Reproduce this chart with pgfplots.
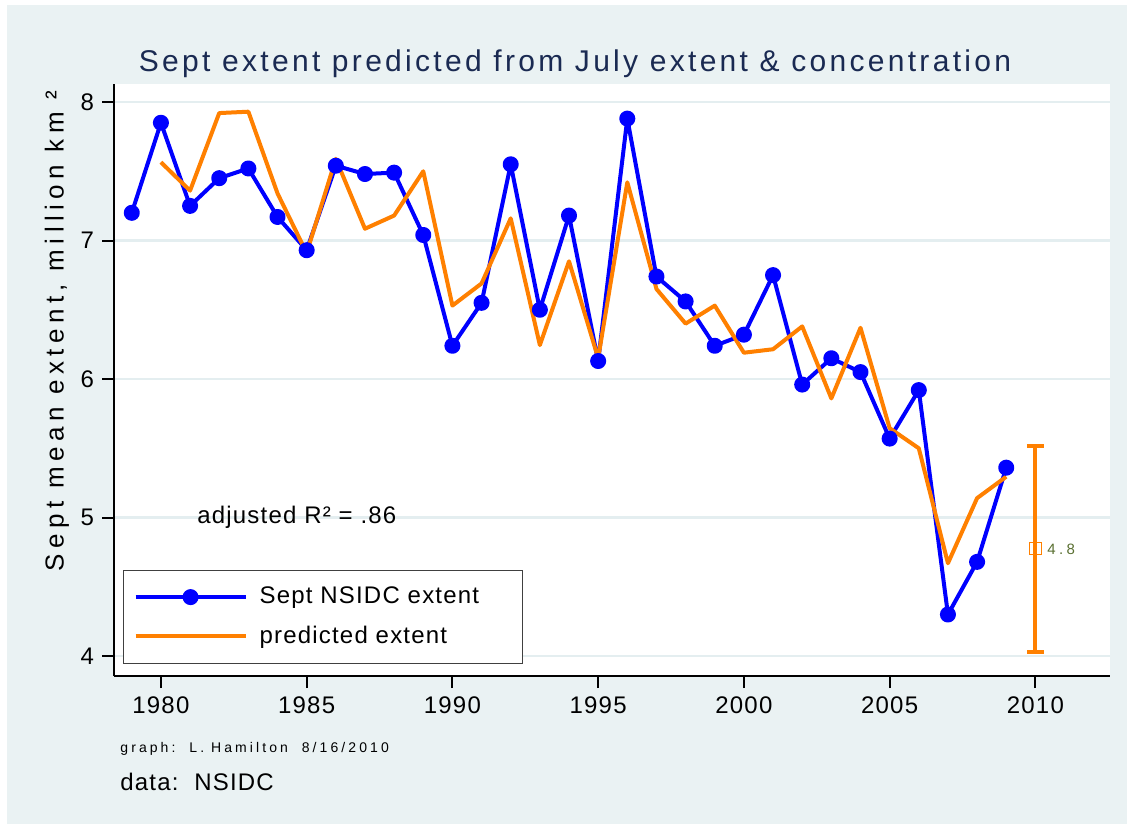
\documentclass[border=0pt]{standalone}
\usepackage{pgfplots}
\pgfplotsset{compat=1.18}
\usepackage{fontspec}
\setmainfont{Liberation Sans}
\newfontfamily\titlefont[LetterSpace=11]{Liberation Sans}
\newfontfamily\tickfont[LetterSpace=5]{Liberation Sans}
\newfontfamily\labfont[LetterSpace=21]{Liberation Sans}
\newfontfamily\smallfont[LetterSpace=22]{Liberation Sans}
\definecolor{bgblue}{RGB}{234,242,243}
\definecolor{gridc}{RGB}{228,238,240}
\definecolor{titlec}{RGB}{26,42,82}
\definecolor{sblue}{RGB}{0,0,255}
\definecolor{sorange}{RGB}{255,128,0}
\definecolor{olivec}{RGB}{90,112,50}

\pgfplotstableread{
year ext
1979 7.20
1980 7.85
1981 7.25
1982 7.45
1983 7.52
1984 7.17
1985 6.93
1986 7.54
1987 7.48
1988 7.49
1989 7.04
1990 6.24
1991 6.55
1992 7.55
1993 6.50
1994 7.18
1995 6.13
1996 7.88
1997 6.74
1998 6.56
1999 6.24
2000 6.32
2001 6.75
2002 5.96
2003 6.15
2004 6.05
2005 5.57
2006 5.92
2007 4.30
2008 4.68
2009 5.36
}\observed

\pgfplotstableread{
year pred
1980 7.565
1981 7.36
1982 7.92
1983 7.93
1984 7.34
1985 6.91
1986 7.59
1987 7.085
1988 7.18
1989 7.50
1990 6.53
1991 6.69
1992 7.16
1993 6.245
1994 6.85
1995 6.15
1996 7.42
1997 6.65
1998 6.40
1999 6.53
2000 6.19
2001 6.215
2002 6.38
2003 5.86
2004 6.37
2005 5.645
2006 5.50
2007 4.67
2008 5.14
2009 5.295
}\predicted

\begin{document}
\begin{tikzpicture}
\fill[white] (-57pt,-74pt) rectangle (506.5pt,338pt);
\fill[bgblue] (-53.5pt,-74pt) rectangle (506.5pt,335.5pt);
\useasboundingbox (-57pt,-74pt) rectangle (506.5pt,338pt);
\begin{axis}[
  at={(0pt,0pt)}, anchor=south west,
  scale only axis, width=498pt, height=296pt,
  xmin=1978.39, xmax=2012.56, ymin=3.856, ymax=8.13,
  axis x line*=bottom, axis y line*=left,
  axis line style={-, line width=1pt, black},
  axis background/.style={fill=white},
  xtick={1980,1985,...,2010}, ytick={4,5,6,7,8},
  tick align=outside, major tick length=6pt,
  tick style={line width=1pt, black},
  ymajorgrids, grid style={gridc, line width=1.3pt},
  /pgf/number format/assume math mode=true,
  /pgf/number format/1000 sep={},
  tick label style={font=\fontsize{12}{14}\tickfont},
  xticklabel style={yshift=-1pt},
  yticklabel style={xshift=-0.5pt},
  legend style={at={(0.009,0.0203)}, anchor=south west, draw=black!75, line width=0.6pt,
    fill=white, inner xsep=5pt, inner ysep=6.5pt, row sep=5.5pt,
    font=\fontsize{12}{14}\tickfont, cells={anchor=west},
    /tikz/every odd column/.append style={column sep=4pt}},
  legend image code/.code={\draw[mark repeat=2,mark phase=2,#1] plot coordinates {(0pt,0pt) (27.5pt,0pt) (55pt,0pt)};},
]
\addplot[sblue, line width=2pt, line join=round, mark=*, mark size=3pt, mark options={solid, fill=sblue, draw=sblue}] table[x=year,y=ext] {\observed};
\addlegendentry{\makebox[124.5pt][l]{Sept NSIDC extent}}
\addplot[sorange, line width=2pt, line join=round] table[x=year,y=pred] {\predicted};
\addlegendentry{\makebox[124.5pt][l]{predicted extent}}
\addplot[forget plot, sorange, line width=2pt, mark=square, mark size=3pt, mark options={line width=0.5pt, draw=sorange},
  error bars/.cd, y dir=both, y explicit, error mark=|, error bar style={line width=2pt, sorange},
  error mark options={line width=2pt, sorange, mark size=4.25pt}]
  coordinates {(2010,4.773) +- (0,0.741)};
\node[anchor=west, inner sep=0pt, font=\fontsize{12}{14}\tickfont] at (axis cs:1981.235,5.0) {adjusted R² = .86};
\node[anchor=west, inner sep=0pt, text=olivec, font=\fontsize{7.5}{9}\smallfont] at (axis cs:2010.4,4.773) {4.8};
\end{axis}
\node[anchor=base, text=titlec, font=\fontsize{15}{18}\titlefont] at (230.5pt,302pt) {Sept extent predicted from July extent \& concentration};
\node[rotate=90, font=\fontsize{13}{15}\labfont] at (-28.5pt,172.5pt) {Sept mean extent, million km ²};
\node[anchor=base west, inner sep=0pt, font=\fontsize{7}{9}\smallfont] at (3pt,-38pt) {graph:\ \ L.\ Hamilton\ \ 8/16/2010};
\node[anchor=base west, inner sep=0pt, font=\fontsize{12}{14}\tickfont] at (3pt,-57pt) {data:\ \ NSIDC};
\end{tikzpicture}
\end{document}
